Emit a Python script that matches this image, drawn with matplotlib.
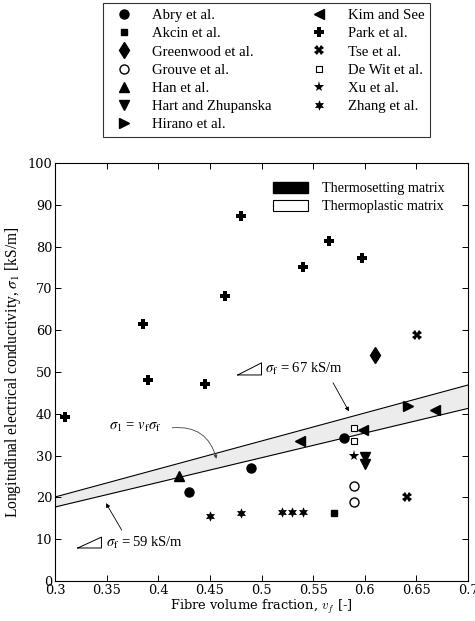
import numpy as np
import matplotlib
matplotlib.use("Agg")
from matplotlib import pyplot as plt
from matplotlib.lines import Line2D
from matplotlib.patches import Patch

plt.rcParams['font.family'] = ['Liberation Serif', 'DejaVu Serif']
plt.rcParams['mathtext.fontset'] = 'stix'
plt.rcParams['font.size'] = 10.5

# data: (fibre volume fraction, conductivity kS/m)
abry_x = [0.43, 0.49, 0.58]
abry_y = [21.3, 27.0, 34.2]
akcin_x = [0.57]
akcin_y = [16.3]
greenwood_x = [0.61]
greenwood_y = [54.1]
grouve_x = [0.59, 0.59]
grouve_y = [22.8, 18.9]
han_x = [0.42]
han_y = [25.1]
hart_x = [0.60, 0.60]
hart_y = [29.7, 28.0]
hirano_x = [0.642]
hirano_y = [41.9]
kim_x = [0.537, 0.598, 0.668]
kim_y = [33.5, 36.1, 40.9]
park_x = [0.31, 0.385, 0.39, 0.445, 0.465, 0.48, 0.54, 0.565, 0.597]
park_y = [39.3, 61.4, 48.1, 47.1, 68.2, 87.4, 75.1, 81.4, 77.3]
tse_x = [0.651, 0.641]
tse_y = [58.9, 20.1]
dewit_x = [0.59, 0.59]
dewit_y = [36.5, 33.5]
xu_x = [0.59]
xu_y = [29.9]
zhang_x = [0.45, 0.48, 0.52, 0.53, 0.54]
zhang_y = [15.6, 16.3, 16.4, 16.4, 16.4]

sigma_hi = 67
sigma_lo = 59

hexagram = (6, 1, 0)

series = [
    ("Abry et al.", abry_x, abry_y, dict(marker='o', ms=6.5, mfc='k')),
    ("Akcin et al.", akcin_x, akcin_y, dict(marker='s', ms=5, mfc='k')),
    ("Greenwood et al.", greenwood_x, greenwood_y, dict(marker='d', ms=8, mfc='k')),
    ("Grouve et al.", grouve_x, grouve_y, dict(marker='o', ms=6.5, mfc='white')),
    ("Han et al.", han_x, han_y, dict(marker='^', ms=7, mfc='k')),
    ("Hart and Zhupanska", hart_x, hart_y, dict(marker='v', ms=7, mfc='k')),
    ("Hirano et al.", hirano_x, hirano_y, dict(marker='>', ms=7, mfc='k')),
    ("Kim and See", kim_x, kim_y, dict(marker='<', ms=7, mfc='k')),
    ("Park et al.", park_x, park_y, dict(marker='P', ms=6.5, mfc='k', mew=0)),
    ("Tse et al.", tse_x, tse_y, dict(marker='X', ms=6.5, mfc='k', mew=0)),
    ("De Wit et al.", dewit_x, dewit_y, dict(marker='s', ms=4.5, mfc='white', mew=0.8)),
    ("Xu et al.", xu_x, xu_y, dict(marker='*', ms=8, mfc='k', mew=0)),
    ("Zhang et al.", zhang_x, zhang_y, dict(marker=hexagram, ms=7.5, mfc='k', mew=0)),
]

fig = plt.figure(figsize=(4.75, 6.21), dpi=100)
ax = fig.add_axes([0.1158, 0.0644, 0.8695, 0.673])

# thermoplastic band
xb = np.array([0.3, 0.7])
ax.fill_between(xb, xb * sigma_lo, xb * sigma_hi, color='#ececec', lw=0, zorder=1)
ax.plot(xb, xb * sigma_hi, color='k', lw=0.8, zorder=2)
ax.plot(xb, xb * sigma_lo, color='k', lw=0.8, zorder=2)

handles = []
for name, xs, ys, st in series:
    ax.plot(xs, ys, ls='none', mec='k', color='k', zorder=3, **st)
    handles.append(Line2D([], [], ls='none', mec='k', color='k', label=name, **st))

# annotations
ax.plot([0.477, 0.500, 0.500, 0.477], [49.3, 49.3, 52.2, 49.3], color='k', lw=0.7)
ax.text(0.503, 50.7, r'$\sigma_\mathrm{f}$ = 67 kS/m', va='center', ha='left', fontsize=10.5)
ax.annotate('', xy=(0.586, 40.0), xytext=(0.568, 48.0),
            arrowprops=dict(arrowstyle='-|>', color='k', lw=0.6, mutation_scale=6))

ax.plot([0.322, 0.345, 0.345, 0.322], [7.9, 7.9, 10.5, 7.9], color='k', lw=0.7)
ax.text(0.349, 9.0, r'$\sigma_\mathrm{f}$ = 59 kS/m', va='center', ha='left', fontsize=10.5)
ax.annotate('', xy=(0.348, 19.2), xytext=(0.366, 11.6),
            arrowprops=dict(arrowstyle='-|>', color='k', lw=0.6, mutation_scale=6))

ax.text(0.352, 36.8, r'$\sigma_1$ = $v_\mathrm{f}\sigma_\mathrm{f}$', va='center', ha='left', fontsize=10.5)
ax.annotate('', xy=(0.457, 28.6), xytext=(0.411, 36.6),
            arrowprops=dict(arrowstyle='-|>', color='#444444', lw=0.6, mutation_scale=5,
                            connectionstyle='arc3,rad=-0.45'))

ax.set_xlim(0.3, 0.7)
ax.set_ylim(0, 100)
ax.set_xticks(np.arange(0.3, 0.701, 0.05))
ax.set_xticklabels(['0.3', '0.35', '0.4', '0.45', '0.5', '0.55', '0.6', '0.65', '0.7'])
ax.set_yticks(np.arange(0, 101, 10))
ax.tick_params(direction='in', top=True, right=True, length=4, width=0.7, pad=2)
for lab in ax.get_xticklabels() + ax.get_yticklabels():
    lab.set_fontfamily('DejaVu Serif')
    lab.set_fontsize(9.3)
for sp in ax.spines.values():
    sp.set_linewidth(0.8)
ax.set_xlabel(r'Fibre volume fraction, $v_f$ [-]', fontsize=9.4, labelpad=1,
              fontfamily='DejaVu Serif')
ax.xaxis.label.set_math_fontfamily('cm')
ax.set_ylabel(r'Longitudinal electrical conductivity, $\sigma_1$ [kS/m]', fontsize=11.2, labelpad=3)

mat_handles = [Patch(facecolor='k', edgecolor='k', label='Thermosetting matrix'),
               Patch(facecolor='white', edgecolor='k', lw=0.8, label='Thermoplastic matrix')]
ax.legend(handles=mat_handles, loc='upper left', bbox_to_anchor=(0.497, 0.985), frameon=False,
          handlelength=2.5, handleheight=0.8, labelspacing=0.3, handletextpad=0.95, fontsize=10.2)

leg = fig.legend(handles=handles, ncol=2, loc='upper center', bbox_to_anchor=(0.561, 0.995),
                 borderaxespad=0, fancybox=False, edgecolor='k', fontsize=10.6, labelspacing=0.33,
                 columnspacing=2.2, handletextpad=0.95, borderpad=0.4)
leg.get_frame().set_linewidth(0.8)

fig.savefig('out.png', dpi=100)
